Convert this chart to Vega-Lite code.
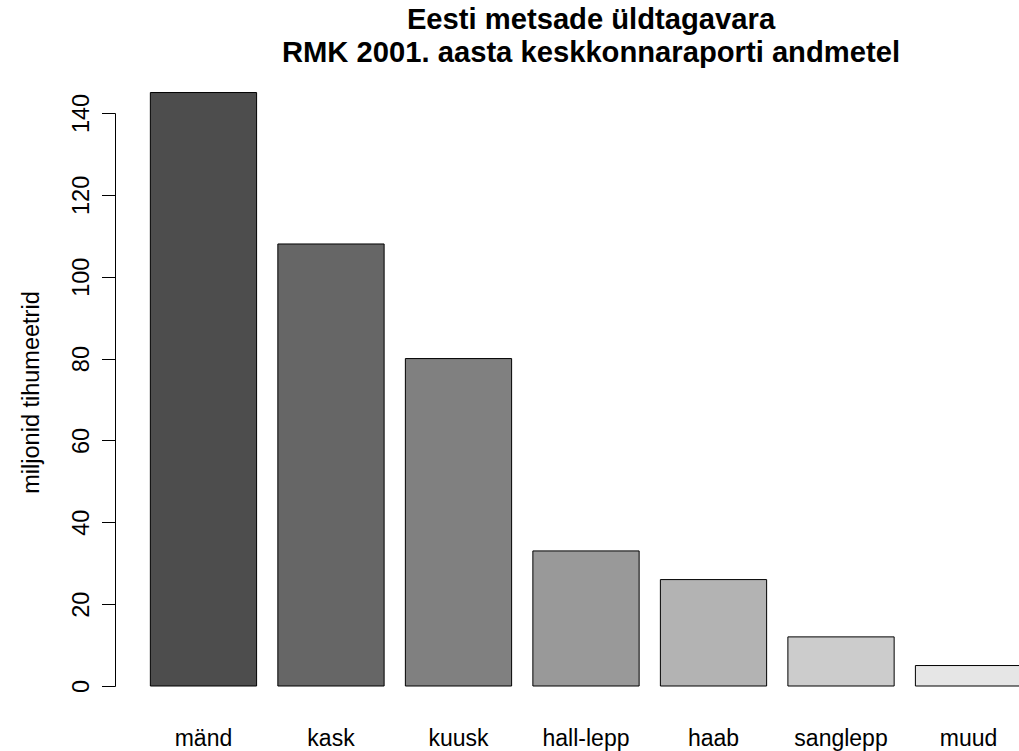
{
  "$schema": "https://vega.github.io/schema/vega-lite/v6.json",
  "autosize": "none",
  "padding": {"left": 115, "top": 113, "right": 0, "bottom": 65},
  "width": 904,
  "height": 573,
  "background": "white",
  "title": {
    "text": ["Eesti metsade üldtagavara", "RMK 2001. aasta keskkonnaraporti andmetel"],
    "font": "Liberation Sans",
    "fontSize": 29.2,
    "fontWeight": "bold",
    "color": "black",
    "anchor": "middle",
    "lineHeight": 33,
    "dx": 24,
    "offset": 24
  },
  "data": {
    "values": [
      {"puu": "mänd", "maht": 145},
      {"puu": "kask", "maht": 108},
      {"puu": "kuusk", "maht": 80},
      {"puu": "hall-lepp", "maht": 33},
      {"puu": "haab", "maht": 26},
      {"puu": "sanglepp", "maht": 12},
      {"puu": "muud", "maht": 5}
    ]
  },
  "mark": {"type": "bar", "stroke": "black", "strokeWidth": 1, "fillOpacity": 1},
  "encoding": {
    "x": {
      "field": "puu",
      "type": "nominal",
      "sort": null,
      "scale": {"range": [0.5, 941.5], "paddingInner": 0.1667, "paddingOuter": 0.2733},
      "axis": {
        "title": null,
        "domain": false,
        "ticks": false,
        "tickSize": 0,
        "labelAngle": 0,
        "labelAlign": "center",
        "labelBaseline": "alphabetic",
        "labelPadding": 59,
        "labelFont": "Liberation Sans",
        "labelFontSize": 23,
        "labelColor": "black"
      }
    },
    "y": {
      "field": "maht",
      "type": "quantitative",
      "scale": {"domain": [0, 140], "nice": false, "zero": false},
      "axis": {
        "values": [0, 20, 40, 60, 80, 100, 120, 140],
        "grid": false,
        "domainColor": "black",
        "tickColor": "black",
        "tickSize": 13.5,
        "labelAngle": -90,
        "labelAlign": "center",
        "labelBaseline": "alphabetic",
        "labelPadding": 12.7,
        "labelFont": "Liberation Sans",
        "labelFontSize": 23.5,
        "labelColor": "black",
        "labelOverlap": false,
        "labelFlush": false,
        "title": "miljonid tihumeetrid",
        "titleFont": "Liberation Sans",
        "titleFontSize": 23.5,
        "titleFontWeight": "normal",
        "titleColor": "black",
        "titleAngle": -90,
        "titleAlign": "center",
        "titleBaseline": "alphabetic",
        "titleX": -77,
        "titleY": 279
      }
    },
    "color": {
      "field": "puu",
      "type": "nominal",
      "scale": {
        "domain": ["mänd", "kask", "kuusk", "hall-lepp", "haab", "sanglepp", "muud"],
        "range": ["#4D4D4D", "#666666", "#808080", "#999999", "#B3B3B3", "#CCCCCC", "#E6E6E6"]
      },
      "legend": null
    }
  },
  "config": {
    "view": {"stroke": null}
  }
}
